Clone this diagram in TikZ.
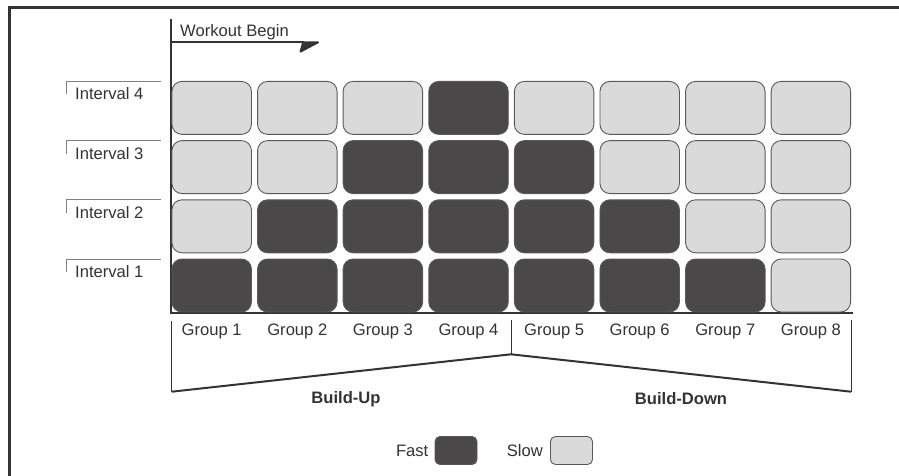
\documentclass[tikz,border=0pt]{standalone}
\usepackage{fontspec}
\setmainfont{Liberation Sans}
\usetikzlibrary{arrows.meta,positioning}
\definecolor{fastgray}{HTML}{4A4849}
\definecolor{slowgray}{HTML}{DADADA}
\definecolor{edgegray}{HTML}{5A5A5A}
\definecolor{inkgray}{HTML}{333333}

\begin{document}
\begin{tikzpicture}[
    x=1pt, y=-1pt,
    font=\fontsize{16.6}{19.5}\selectfont,
    fast/.style={draw=edgegray, line width=0.9pt, fill=fastgray, rounded corners=10pt, minimum width=79.5pt, minimum height=53pt, inner sep=0pt},
    slow/.style={fast, fill=slowgray},
    lbl/.style={inner sep=0pt, text=inkgray},
    axis/.style={draw=inkgray, line width=2.4pt},
    tick/.style={draw=inkgray, line width=1pt},
    brace/.style={draw=inkgray, line width=2pt},
    intline/.style={draw=gray, line width=0.9pt}
  ]
  \useasboundingbox (0,0) rectangle (899,476);

  % Frame
  \draw[axis, line width=2.8pt] (9.3,476) -- (9.3,7.3) -- (899,7.3);

  % Axes
  \coordinate (axistop) at (171,19.3);
  \coordinate (origin) at (171,313);
  \coordinate (axisend) at (853,313);
  \draw[axis] (axistop) -- (origin) -- (axisend);

  % Workout begin
  \coordinate (beginstart) at (171,42.3);
  \coordinate (beginend) at (319,42.3);
  \draw[axis, line width=2pt, -{Stealth[harpoon, swap, length=21pt, width=22pt, inset=3pt, round]}] (beginstart) -- (beginend);
  \node[lbl, anchor=west] (begin) at (180,32.3) {Workout Begin};

  % Groups
  \foreach \c/\n in {1/1,2/2,3/3,4/4,5/3,6/2,7/1,8/0} {
    \foreach \r in {1,...,4} {
      \ifnum\r>\n \def\kind{slow}\else\def\kind{fast}\fi
      \node[\kind] (b\c\r) at ({211.7+85.6*(\c-1)}, {285.5-59.2*(\r-1)}) {};
    }
    \node[lbl] (g\c) at ({211.7+85.6*(\c-1)}, 331) {Group \c};
  }

  % Intervals
  \foreach \r in {1,...,4} {
    \coordinate (it\r) at (66, {259-59.2*(\r-1)});
    \draw[intline] ([yshift=-13pt]it\r) -- (it\r) -- ++(94.7,0);
    \node[lbl, anchor=west] (int\r) at (75, {271.5-59.2*(\r-1)}) {Interval \r};
  }

  % Build-up / build-down
  \coordinate (upl) at (171.7,391.7);
  \coordinate (peak) at (511,354.3);
  \coordinate (downr) at (851,391.7);
  \draw[tick] (171.7,321) -- (upl);
  \draw[tick] (511,320) -- (peak);
  \draw[tick] (851,320) -- (downr);
  \draw[brace] (upl) -- (peak) -- (downr);
  \node[lbl, font=\fontsize{16.6}{19.5}\selectfont\bfseries] (buildup) at (346,399) {Build-Up};
  \node[lbl, font=\fontsize{16.6}{19.5}\selectfont\bfseries] (builddown) at (681,399) {Build-Down};

  % Legend
  \node[fast, minimum width=42pt, minimum height=28pt, rounded corners=5pt] (fastkey) at (456,450.5) {};
  \node[lbl, left=6pt of fastkey] (fasttext) {Fast};
  \node[slow, minimum width=42pt, minimum height=28pt, rounded corners=5pt] (slowkey) at (571.5,450.5) {};
  \node[lbl, left=7pt of slowkey] (slowtext) {Slow};
\end{tikzpicture}
\end{document}
